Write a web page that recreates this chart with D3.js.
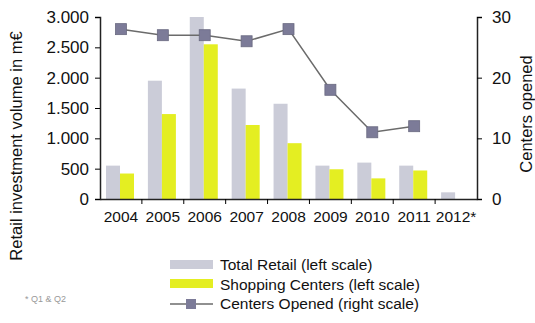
<!DOCTYPE html>
<html>
<head>
<meta charset="utf-8">
<script src="https://cdn.jsdelivr.net/npm/d3@7/dist/d3.min.js"></script>
<style>
  body { margin: 0; background: #fff; }
  text { font-family: "Liberation Sans", Arial, sans-serif; fill: #111; }
</style>
</head>
<body>
<script>
// data
var years = ["2004", "2005", "2006", "2007", "2008", "2009", "2010", "2011", "2012*"];
var totalRetail = [550, 1950, 3000, 1820, 1570, 550, 600, 550, 110];
var shoppingCenters = [420, 1400, 2550, 1220, 920, 490, 340, 470, 0];
var centersOpened = [28, 27, 27, 26, 28, 18, 11, 12, null];
var leftTicks = [0, 500, 1000, 1500, 2000, 2500, 3000];
var rightTicks = [0, 10, 20, 30];

var W = 535, H = 323;
var margin = {top: 17, left: 100, right: 58, bottom: 124};
var width = W - margin.left - margin.right,
    height = H - margin.top - margin.bottom;

var svg = d3.select("body").append("svg").attr("width", W).attr("height", H);
var g = svg.append("g").attr("transform", "translate(" + margin.left + "," + margin.top + ")");

var x = d3.scaleBand().domain(years).range([0, width]);
var y = d3.scaleLinear().domain([0, 3000]).range([height, 0]);
var y2 = d3.scaleLinear().domain([0, 30]).range([height, 0]);

var barW = 14, off = 6;

// bars
g.selectAll(".tot").data(years).join("rect")
  .attr("x", function(d) { return x(d) + off; })
  .attr("y", function(d, i) { return y(totalRetail[i]); })
  .attr("width", barW)
  .attr("height", function(d, i) { return height - y(totalRetail[i]); })
  .attr("fill", "#cbccd8");

g.selectAll(".sc").data(years).join("rect")
  .attr("x", function(d) { return x(d) + off + barW; })
  .attr("y", function(d, i) { return y(shoppingCenters[i]); })
  .attr("width", barW)
  .attr("height", function(d, i) { return height - y(shoppingCenters[i]); })
  .attr("fill", "#e4ee22");

// axes
var fmt = function(d) { return d3.format(",")(d).replace(",", "."); };
var yAx = g.append("g").call(d3.axisLeft(y).tickValues(leftTicks).tickFormat(fmt).tickSize(5).tickPadding(6));
yAx.selectAll("text").style("font-size", "17px");

var y2Ax = g.append("g").attr("transform", "translate(" + width + ",0)")
  .call(d3.axisRight(y2).tickValues(rightTicks).tickSize(5).tickPadding(10));
y2Ax.selectAll("text").style("font-size", "17px");

var xAx = g.append("g").attr("transform", "translate(0," + height + ")")
  .call(d3.axisBottom(x).tickSize(0).tickPadding(12));
xAx.selectAll("text").style("font-size", "15.5px");
// tick marks at category boundaries
g.append("g").selectAll("line").data(years.slice(1)).join("line")
  .attr("x1", function(d) { return x(d); }).attr("x2", function(d) { return x(d); })
  .attr("y1", height).attr("y2", height + 5)
  .attr("stroke", "#000");

g.selectAll(".domain").attr("stroke", "#222").attr("stroke-width", 1.5);

// line
var pts = years.map(function(d, i) { return {yr: d, v: centersOpened[i]}; }).filter(function(d) { return d.v != null; });
g.append("path").datum(pts)
  .attr("fill", "none").attr("stroke", "#6b6b6b").attr("stroke-width", 1.5)
  .attr("d", d3.line().x(function(d) { return x(d.yr) + x.bandwidth() / 2; }).y(function(d) { return y2(d.v); }));
g.selectAll(".mk").data(pts).join("rect")
  .attr("x", function(d) { return x(d.yr) + x.bandwidth() / 2 - 5.5; })
  .attr("y", function(d) { return y2(d.v) - 5.5; })
  .attr("width", 11).attr("height", 11)
  .attr("fill", "#7c7b98").attr("stroke", "#6a6a80").attr("stroke-width", 0.8);

// axis titles
svg.append("text")
  .attr("transform", "translate(22,146) rotate(-90)")
  .attr("text-anchor", "middle")
  .style("font-size", "16.5px")
  .text("Retail investment volume in m€");

svg.append("text")
  .attr("transform", "translate(532,114) rotate(-90)")
  .attr("text-anchor", "middle")
  .style("font-size", "16.5px")
  .text("Centers opened");

// legend
var lg = svg.append("g").attr("transform", "translate(170,0)");
lg.append("rect").attr("x", 0).attr("y", 260).attr("width", 43).attr("height", 9).attr("fill", "#cbccd8");
lg.append("rect").attr("x", 0).attr("y", 279).attr("width", 43).attr("height", 9).attr("fill", "#e4ee22");
lg.append("line").attr("x1", 0).attr("x2", 43).attr("y1", 304).attr("y2", 304).attr("stroke", "#6b6b6b").attr("stroke-width", 1.5);
lg.append("rect").attr("x", 16).attr("y", 299).attr("width", 10).attr("height", 10).attr("fill", "#7c7b98");
var legendLabels = ["Total Retail (left scale)", "Shopping Centers (left scale)", "Centers Opened (right scale)"];
lg.selectAll(".lt").data(legendLabels).join("text")
  .attr("x", 50).attr("y", function(d, i) { return 270 + i * 19.5; })
  .style("font-size", "15.5px")
  .text(function(d) { return d; });

svg.append("text").attr("x", 25).attr("y", 302)
  .style("font-size", "9px").style("fill", "#999")
  .text("* Q1 & Q2");
</script>
</body>
</html>
